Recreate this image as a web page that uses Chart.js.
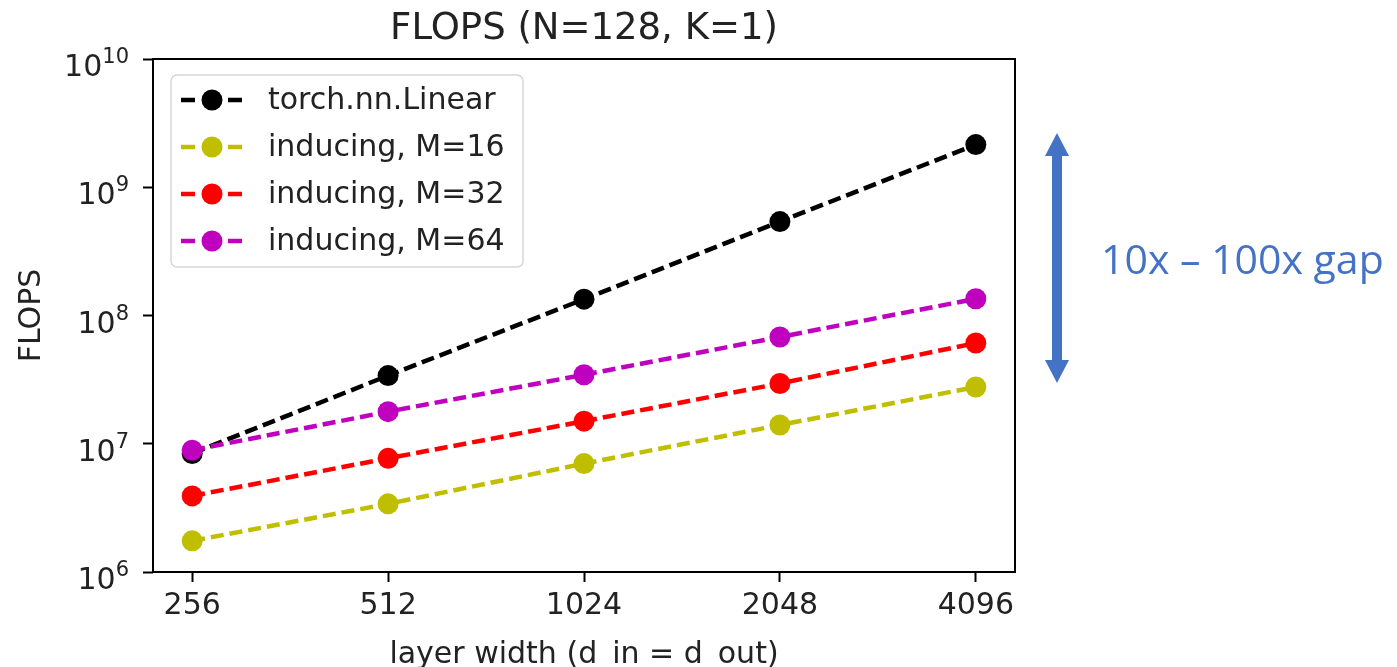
<!DOCTYPE html>
<html>
<head>
<meta charset="utf-8">
<script src="https://cdn.jsdelivr.net/npm/chart.js@4.4.1/dist/chart.umd.min.js"></script>
<style>
  body { margin: 0; background: #fff; }
  canvas { display: block; }
</style>
</head>
<body>
<canvas id="flops" width="1397" height="667"></canvas>
<script>
// layer widths on the x axis (plotted on a log2 position)
var widths = [256, 512, 1024, 2048, 4096];

var linearFlops = [8.4e6, 3.4e7, 1.34e8, 5.4e8, 2.15e9];
var m16Flops = [1.75e6, 3.4e6, 7.0e6, 1.4e7, 2.77e7];
var m32Flops = [3.92e6, 7.7e6, 1.5e7, 2.95e7, 6.1e7];
var m64Flops = [8.9e6, 1.78e7, 3.45e7, 6.8e7, 1.35e8];

var seriesNames = ['torch.nn.Linear', 'inducing, M=16', 'inducing, M=32', 'inducing, M=64'];
var seriesColors = ['#000000', '#bfbf00', '#ff0000', '#bf00bf'];

var yTicks = [1e6, 1e7, 1e8, 1e9, 1e10];
var yExponents = ['6', '7', '8', '9', '10'];

var titleText = 'FLOPS (N=128, K=1)';
var gapText = '10x \u2013 100x gap';
var font = 'DejaVu Sans';

function points(vals) {
  return vals.map(function (v, i) { return { x: Math.log2(widths[i]), y: v }; });
}

function series(i, vals) {
  return {
    label: seriesNames[i],
    data: points(vals),
    borderColor: seriesColors[i],
    backgroundColor: seriesColors[i],
    borderWidth: 4.5,
    borderDash: [13, 6],
    pointRadius: 10.5,
    pointHoverRadius: 10.5,
    pointBorderWidth: 0,
    order: 4 - i   // later series drawn on top, like matplotlib
  };
}

// matplotlib-style box, title, 10^n labels, legend and the note on the right
var framePlugin = {
  id: 'frame',
  afterDraw: function (chart) {
    var ctx = chart.ctx, a = chart.chartArea;
    ctx.save();
    ctx.strokeStyle = '#000';
    ctx.lineWidth = 2;
    ctx.strokeRect(a.left, a.top, a.right - a.left, a.bottom - a.top);

    // title centred over the axes
    ctx.fillStyle = '#222';
    ctx.font = '37px "' + font + '"';
    ctx.textAlign = 'center';
    ctx.textBaseline = 'alphabetic';
    ctx.fillText(titleText, (a.left + a.right) / 2, 39);

    // y tick labels as 10 with a raised exponent
    var ys = chart.scales.y;
    yTicks.forEach(function (v, i) {
      var py = ys.getPixelForValue(v);
      ctx.font = '21px "' + font + '"';
      var ew = ctx.measureText(yExponents[i]).width;
      ctx.textAlign = 'right';
      ctx.fillText(yExponents[i], 129, py + 4);
      ctx.font = '30px "' + font + '"';
      ctx.fillText('10', 129 - ew, py + 17);
    });

    // legend box
    var lx = 171, ly = 75, lw = 352, lh = 192, r = 6;
    ctx.beginPath();
    ctx.moveTo(lx + r, ly);
    ctx.arcTo(lx + lw, ly, lx + lw, ly + lh, r);
    ctx.arcTo(lx + lw, ly + lh, lx, ly + lh, r);
    ctx.arcTo(lx, ly + lh, lx, ly, r);
    ctx.arcTo(lx, ly, lx + lw, ly, r);
    ctx.closePath();
    ctx.fillStyle = 'rgba(255,255,255,0.8)';
    ctx.fill();
    ctx.strokeStyle = '#d6d6d6';
    ctx.lineWidth = 1.5;
    ctx.stroke();

    ctx.textAlign = 'left';
    chart.data.datasets.forEach(function (ds, i) {
      var y = 100 + i * 47;
      ctx.strokeStyle = ds.borderColor;
      ctx.lineWidth = 4.5;
      ctx.beginPath();
      ctx.moveTo(181, y);
      ctx.lineTo(195, y);
      ctx.moveTo(228, y);
      ctx.lineTo(242, y);
      ctx.stroke();
      ctx.fillStyle = ds.backgroundColor;
      ctx.beginPath();
      ctx.arc(212, y, 10.5, 0, Math.PI * 2);
      ctx.fill();
      ctx.fillStyle = '#222';
      ctx.font = '30px "' + font + '"';
      ctx.textBaseline = 'middle';
      ctx.fillText(ds.label, 268, y + 1);
    });

    // annotation on the right
    var ax = 1057, top = 133, bot = 383;
    ctx.fillStyle = '#4472c4';
    ctx.fillRect(ax - 5, top + 20, 10, bot - top - 40);
    ctx.beginPath();
    ctx.moveTo(ax, top);
    ctx.lineTo(ax + 12, top + 23);
    ctx.lineTo(ax - 12, top + 23);
    ctx.closePath();
    ctx.fill();
    ctx.beginPath();
    ctx.moveTo(ax, bot);
    ctx.lineTo(ax + 12, bot - 23);
    ctx.lineTo(ax - 12, bot - 23);
    ctx.closePath();
    ctx.fill();
    ctx.font = '41px "Open Sans"';
    ctx.textBaseline = 'alphabetic';
    ctx.fillText(gapText, 1101, 274);
    ctx.restore();
  }
};

new Chart(document.getElementById('flops'), {
  type: 'line',
  data: {
    datasets: [
      series(0, linearFlops),
      series(1, m16Flops),
      series(2, m32Flops),
      series(3, m64Flops)
    ]
  },
  options: {
    responsive: false,
    animation: false,
    layout: { padding: { left: 0, right: 382, top: 59, bottom: 0 } },
    plugins: {
      legend: { display: false },
      tooltip: { enabled: false },
      title: { display: false }
    },
    scales: {
      x: {
        type: 'linear',
        min: 7.8,
        max: 12.2,
        afterFit: function (s) { s.height = 95; },
        afterBuildTicks: function (s) {
          s.ticks = widths.map(function (w) { return { value: Math.log2(w) }; });
        },
        ticks: {
          color: '#222',
          font: { family: font, size: 30 },
          padding: 6,
          maxRotation: 0,
          callback: function (v) { return String(Math.round(Math.pow(2, v))); }
        },
        grid: { drawOnChartArea: false, drawTicks: true, tickLength: 10, tickWidth: 2, tickColor: '#000' },
        border: { display: false },
        title: {
          display: true,
          text: 'layer width (d_in = d_out)',
          color: '#222',
          font: { family: font, size: 30, lineHeight: 1.2 },
          padding: { top: 0, bottom: -6 }
        }
      },
      y: {
        type: 'logarithmic',
        min: 1e6,
        max: 1e10,
        afterFit: function (s) { s.width = 153; },
        afterBuildTicks: function (s) {
          s.ticks = yTicks.map(function (v) { return { value: v }; });
        },
        ticks: { display: false },
        grid: { drawOnChartArea: false, drawTicks: true, tickLength: 10, tickWidth: 2, tickColor: '#000' },
        border: { display: false },
        title: {
          display: true,
          text: 'FLOPS',
          color: '#222',
          font: { family: font, size: 30, lineHeight: 1.2 },
          padding: { top: 14, bottom: 0 }
        }
      }
    }
  },
  plugins: [framePlugin]
});
</script>
</body>
</html>
